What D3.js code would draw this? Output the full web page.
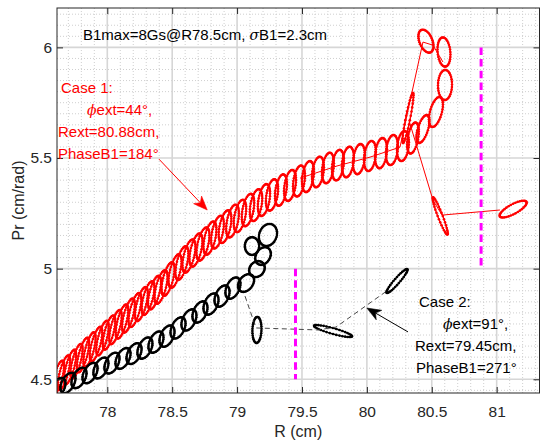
<!DOCTYPE html>
<html><head><meta charset="utf-8">
<script src="https://cdn.jsdelivr.net/npm/d3@7"></script>
<style>body{margin:0;background:#fff} svg{display:block}</style>
</head><body>
<svg id="c" width="541" height="443"></svg>
<script>
// ---------- data ----------
const xTicks = [78, 78.5, 79, 79.5, 80, 80.5, 81];
const yTicks = [4.5, 5, 5.5, 6];

// Case 1 (red): per-turn phase-space ellipses, centre R / Pr, half-amplitudes and phase lag
const redR  = [77.620,77.666,77.713,77.763,77.813,77.863,77.913,77.963,78.013,78.063,78.113,78.163,78.213,78.263,78.314,78.364,78.414,
               78.468,78.522,78.575,78.629,78.683,78.737,78.791,78.849,78.907,78.965,79.022,79.084,79.146,79.207,
               79.269,79.338,79.408,79.477,79.546,79.623,79.700,79.777,79.854,79.939,80.024,80.109,80.193,80.278,
               80.355,80.432,80.532,80.602,80.594,80.455,80.317,80.565,81.127];
const redPr = [4.506,4.530,4.555,4.582,4.610,4.634,4.659,4.686,4.711,4.736,4.761,4.788,4.813,4.840,4.867,4.892,4.917,
               4.953,4.989,5.025,5.057,5.084,5.111,5.138,5.165,5.190,5.215,5.238,5.265,5.287,5.310,
               5.333,5.355,5.376,5.396,5.416,5.437,5.455,5.468,5.482,5.495,5.509,5.522,5.536,5.554,
               5.590,5.631,5.708,5.830,5.979,6.028,5.681,5.238,5.269];
const redAR = [0.047,0.047,0.047,0.047,0.047,0.047,0.048,0.048,0.048,0.048,0.048,0.049,0.049,0.049,0.049,0.050,0.050,
               0.050,0.050,0.050,0.050,0.050,0.050,0.050,0.049,0.049,0.049,0.048,0.048,0.048,0.047,
               0.047,0.046,0.046,0.046,0.046,0.046,0.046,0.046,0.046,0.046,0.046,0.046,0.046,0.046,
               0.045,0.050,0.054,0.054,0.050,0.058,0.042,0.058,0.104];
const redAP = [0.078,0.078,0.078,0.078,0.078,0.078,0.078,0.078,0.077,0.077,0.077,0.077,0.077,0.077,0.076,0.076,0.076,
               0.076,0.076,0.076,0.075,0.075,0.075,0.075,0.074,0.074,0.074,0.073,0.073,0.072,0.072,
               0.071,0.071,0.070,0.070,0.070,0.069,0.069,0.069,0.069,0.068,0.068,0.068,0.068,0.068,
               0.070,0.063,0.068,0.068,0.066,0.052,0.113,0.084,0.038];
const redPh = [45,45,45,45,46,46,47,47,48,48,49,49,50,50,51,51,52,
               53,54,55,56,57,58,59,60,61,62,63,64,65,66,
               67,68,69,70,71,72,72,73,73,74,74,75,75,75,
               65,55,60,88,100,115,25,160,40];
const redLineAR  = [79.485,79.770,80.024,80.255,80.432,80.509,80.586];
const redLineAPr = [5.409,5.464,5.504,5.549,6.024,6.010,5.934];
const redLineBR  = [80.324,80.509,80.579,81.025];
const redLineBPr = [5.671,5.310,5.242,5.265];

// Case 2 (black)
const blackR  = [77.620,77.697,77.782,77.867,77.951,78.036,78.121,78.206,78.290,78.375,78.460,78.545,78.629,78.714,78.799,78.884,78.968,
                 79.069,79.153,79.200,79.115,79.238,79.153,79.739,80.232];
const blackPr = [4.460,4.483,4.506,4.528,4.551,4.573,4.594,4.616,4.641,4.668,4.695,4.732,4.768,4.804,4.840,4.876,4.912,
                 4.935,4.998,5.057,5.102,5.152,4.723,4.718,4.944];
const blackAR = [0.058,0.058,0.058,0.058,0.058,0.058,0.058,0.058,0.058,0.058,0.058,0.058,0.058,0.058,0.058,0.058,0.058,
                 0.062,0.060,0.060,0.055,0.070,0.035,0.146,0.081];
const blackAP = [0.046,0.046,0.046,0.046,0.047,0.047,0.047,0.047,0.048,0.048,0.048,0.048,0.048,0.048,0.048,0.048,0.048,
                 0.040,0.036,0.040,0.040,0.050,0.059,0.027,0.054];
const blackPh = [62,62,62,62,63,63,63,64,64,64,65,65,65,66,66,66,66,
                 70,80,75,90,80,85,150,20];
const blackLineR  = [79.061,79.146,79.623,79.762,80.163];
const blackLinePr = [4.876,4.732,4.723,4.736,4.903];

// extraction markers
const extR   = [80.88, 79.45];
const extLo  = [5.0, 4.5];
const extHi  = [6.0, 5.0];

// ---------- layout ----------
const m = {l:57, r:539.5, t:8, b:393};
const x = d3.scaleLinear().domain([77.6125, 81.33]).range([m.l, m.r]);
const y = d3.scaleLinear().domain([4.438, 6.178]).range([m.b, m.t]);
const FONT = "'Liberation Sans', Arial, Helvetica, sans-serif";
const svg = d3.select("#c");

svg.append("defs").append("clipPath").attr("id","clip")
  .append("rect").attr("x",m.l).attr("y",m.t).attr("width",m.r-m.l).attr("height",m.b-m.t);

// minor grid
const xMinor = d3.range(777, 814).map(v=>v/10).filter(v=>!xTicks.some(t=>Math.abs(t-v)<1e-6));
const yMinor = d3.range(89, 124).map(v=>v/20).filter(v=>!yTicks.some(t=>Math.abs(t-v)<1e-6));
const grid = svg.append("g");
grid.selectAll(".xm").data(xMinor).join("line")
  .attr("x1",d=>x(d)).attr("x2",d=>x(d)).attr("y1",m.t).attr("y2",m.b)
  .attr("stroke","#cfcfcf").attr("stroke-width",1).attr("stroke-dasharray","1,2");
grid.selectAll(".ym").data(yMinor).join("line")
  .attr("y1",d=>y(d)).attr("y2",d=>y(d)).attr("x1",m.l).attr("x2",m.r)
  .attr("stroke","#cfcfcf").attr("stroke-width",1).attr("stroke-dasharray","1,2");
grid.selectAll(".xM").data(xTicks).join("line")
  .attr("x1",d=>x(d)).attr("x2",d=>x(d)).attr("y1",m.t).attr("y2",m.b)
  .attr("stroke","#d6d6d6").attr("stroke-width",1.6);
grid.selectAll(".yM").data(yTicks).join("line")
  .attr("y1",d=>y(d)).attr("y2",d=>y(d)).attr("x1",m.l).attr("x2",m.r)
  .attr("stroke","#d6d6d6").attr("stroke-width",1.6);

// ---------- marks ----------
const plot = svg.append("g").attr("clip-path","url(#clip)");
const line = d3.line().x(d=>x(d[0])).y(d=>y(d[1]));
function ellipse(cR,cP,aR,aP,ph,n){
  const p = ph*Math.PI/180;
  return d3.range(n+1).map(i=>{const t=2*Math.PI*i/n; return [cR+aR*Math.cos(t), cP+aP*Math.cos(t+p)];});
}
function drawSet(R,P,AR,AP,PH,color){
  const g = plot.append("g");
  R.forEach((r,i)=>{
    const pts = ellipse(r,P[i],AR[i],AP[i],PH[i],36);
    g.append("path").attr("d",line(pts)).attr("fill","none").attr("stroke",color).attr("stroke-width",1.4);
    g.selectAll(null).data(pts.slice(0,-1)).join("circle")
      .attr("cx",d=>x(d[0])).attr("cy",d=>y(d[1])).attr("r",1.3).attr("fill",color);
  });
}
drawSet(redR,redPr,redAR,redAP,redPh,"#ff0000");
plot.append("path").attr("d",line(redLineAR.map((r,i)=>[r,redLineAPr[i]])))
  .attr("fill","none").attr("stroke","#ff0000").attr("stroke-width",1);
plot.append("path").attr("d",line(redLineBR.map((r,i)=>[r,redLineBPr[i]])))
  .attr("fill","none").attr("stroke","#ff0000").attr("stroke-width",1);

drawSet(blackR,blackPr,blackAR,blackAP,blackPh,"#000000");
plot.append("path").attr("d",line(blackLineR.map((r,i)=>[r,blackLinePr[i]])))
  .attr("fill","none").attr("stroke","#333").attr("stroke-width",0.9).attr("stroke-dasharray","5,3.5");

// magenta extraction lines
plot.selectAll(".ext").data(extR).join("line")
  .attr("x1",d=>x(d)).attr("x2",d=>x(d))
  .attr("y1",(d,i)=>y(extHi[i])).attr("y2",(d,i)=>y(extLo[i]))
  .attr("stroke","#ff00ff").attr("stroke-width",3).attr("stroke-dasharray","7.5,4.2");

// ---------- axes ----------
const axG = svg.append("g").attr("font-family",FONT);
const xb = axG.append("g").attr("transform",`translate(0,${m.b})`)
  .call(d3.axisBottom(x).tickValues(xTicks).tickSizeInner(-6).tickSizeOuter(0).tickPadding(12.5).tickFormat(d3.format("")));
const yl = axG.append("g").attr("transform",`translate(${m.l},0)`)
  .call(d3.axisLeft(y).tickValues(yTicks).tickSizeInner(-6).tickSizeOuter(0).tickPadding(5).tickFormat(d3.format("")));
const xt = axG.append("g").attr("transform",`translate(0,${m.t})`)
  .call(d3.axisTop(x).tickValues(xTicks).tickSizeInner(-6).tickSizeOuter(0).tickFormat(""));
const yr = axG.append("g").attr("transform",`translate(${m.r},0)`)
  .call(d3.axisRight(y).tickValues(yTicks).tickSizeInner(-6).tickSizeOuter(0).tickFormat(""));
[xb,yl,xt,yr].forEach(g=>{
  g.select(".domain").remove();
  g.selectAll("line").attr("stroke","#262626");
  g.selectAll("text").attr("fill","#262626").attr("font-size","15.5px").attr("font-family",FONT);
});
svg.append("rect").attr("x",m.l).attr("y",m.t).attr("width",m.r-m.l).attr("height",m.b-m.t)
  .attr("fill","none").attr("stroke","#262626").attr("stroke-width",1);

svg.append("text").attr("x",(m.l+m.r)/2).attr("y",436.5).attr("text-anchor","middle")
  .attr("font-family",FONT).attr("font-size","16px").attr("fill","#262626").text("R (cm)");
svg.append("text").attr("transform",`translate(23.5,${(m.t+m.b)/2}) rotate(-90)`).attr("text-anchor","middle")
  .attr("font-family",FONT).attr("font-size","16px").attr("fill","#262626").text("Pr (cm/rad)");

// ---------- annotations ----------
function txt(xp,yp,parts,color){
  const t = svg.append("text").attr("x",xp).attr("y",yp).attr("font-family",FONT)
    .attr("font-size","15px").attr("fill",color);
  parts.forEach(p=>{
    const s = t.append("tspan").text(p[0]);
    if(p[1]) s.attr("font-style","italic").attr("font-family","'DejaVu Serif','Liberation Serif',serif").attr("font-size","14px");
  });
}
txt(83,39.5,[["B1max=8Gs@R78.5cm, "],["σ",1],["B1=2.3cm"]],"#000");
txt(61,93,[["Case 1:"]],"#ff0000");
txt(87,115,[["ϕ",1],["ext=44°,"]],"#ff0000");
txt(58,137,[["Rext=80.88cm,"]],"#ff0000");
txt(58,159,[["PhaseB1=184°"]],"#ff0000");
txt(419,307,[["Case 2:"]],"#000");
txt(443,329,[["ϕ",1],["ext=91°,"]],"#000");
txt(415,351,[["Rext=79.45cm,"]],"#000");
txt(416,373,[["PhaseB1=271°"]],"#000");

function arrow(R0,P0,R1,P1,color){
  const x0=x(R0),y0=y(P0),x1=x(R1),y1=y(P1);
  const a=Math.atan2(y1-y0,x1-x0), L=14, Wd=5.5, N=10;
  const ux=Math.cos(a), uy=Math.sin(a), px=-uy, py=ux;
  const bx=x1-ux*N, by=y1-uy*N;
  svg.append("line").attr("x1",x0).attr("y1",y0).attr("x2",bx).attr("y2",by)
    .attr("stroke",color).attr("stroke-width",1);
  const pts=[[x1,y1],[x1-ux*L+px*Wd,y1-uy*L+py*Wd],[bx,by],[x1-ux*L-px*Wd,y1-uy*L-py*Wd]];
  svg.append("path").attr("d","M"+pts.map(p=>p.join(",")).join("L")+"Z").attr("fill",color).attr("stroke",color).attr("stroke-width",0.6);
}
arrow(78.398,5.495,78.770,5.265,"#ff0000");
arrow(80.317,4.714,80.0,4.822,"#000");
</script>
</body></html>
